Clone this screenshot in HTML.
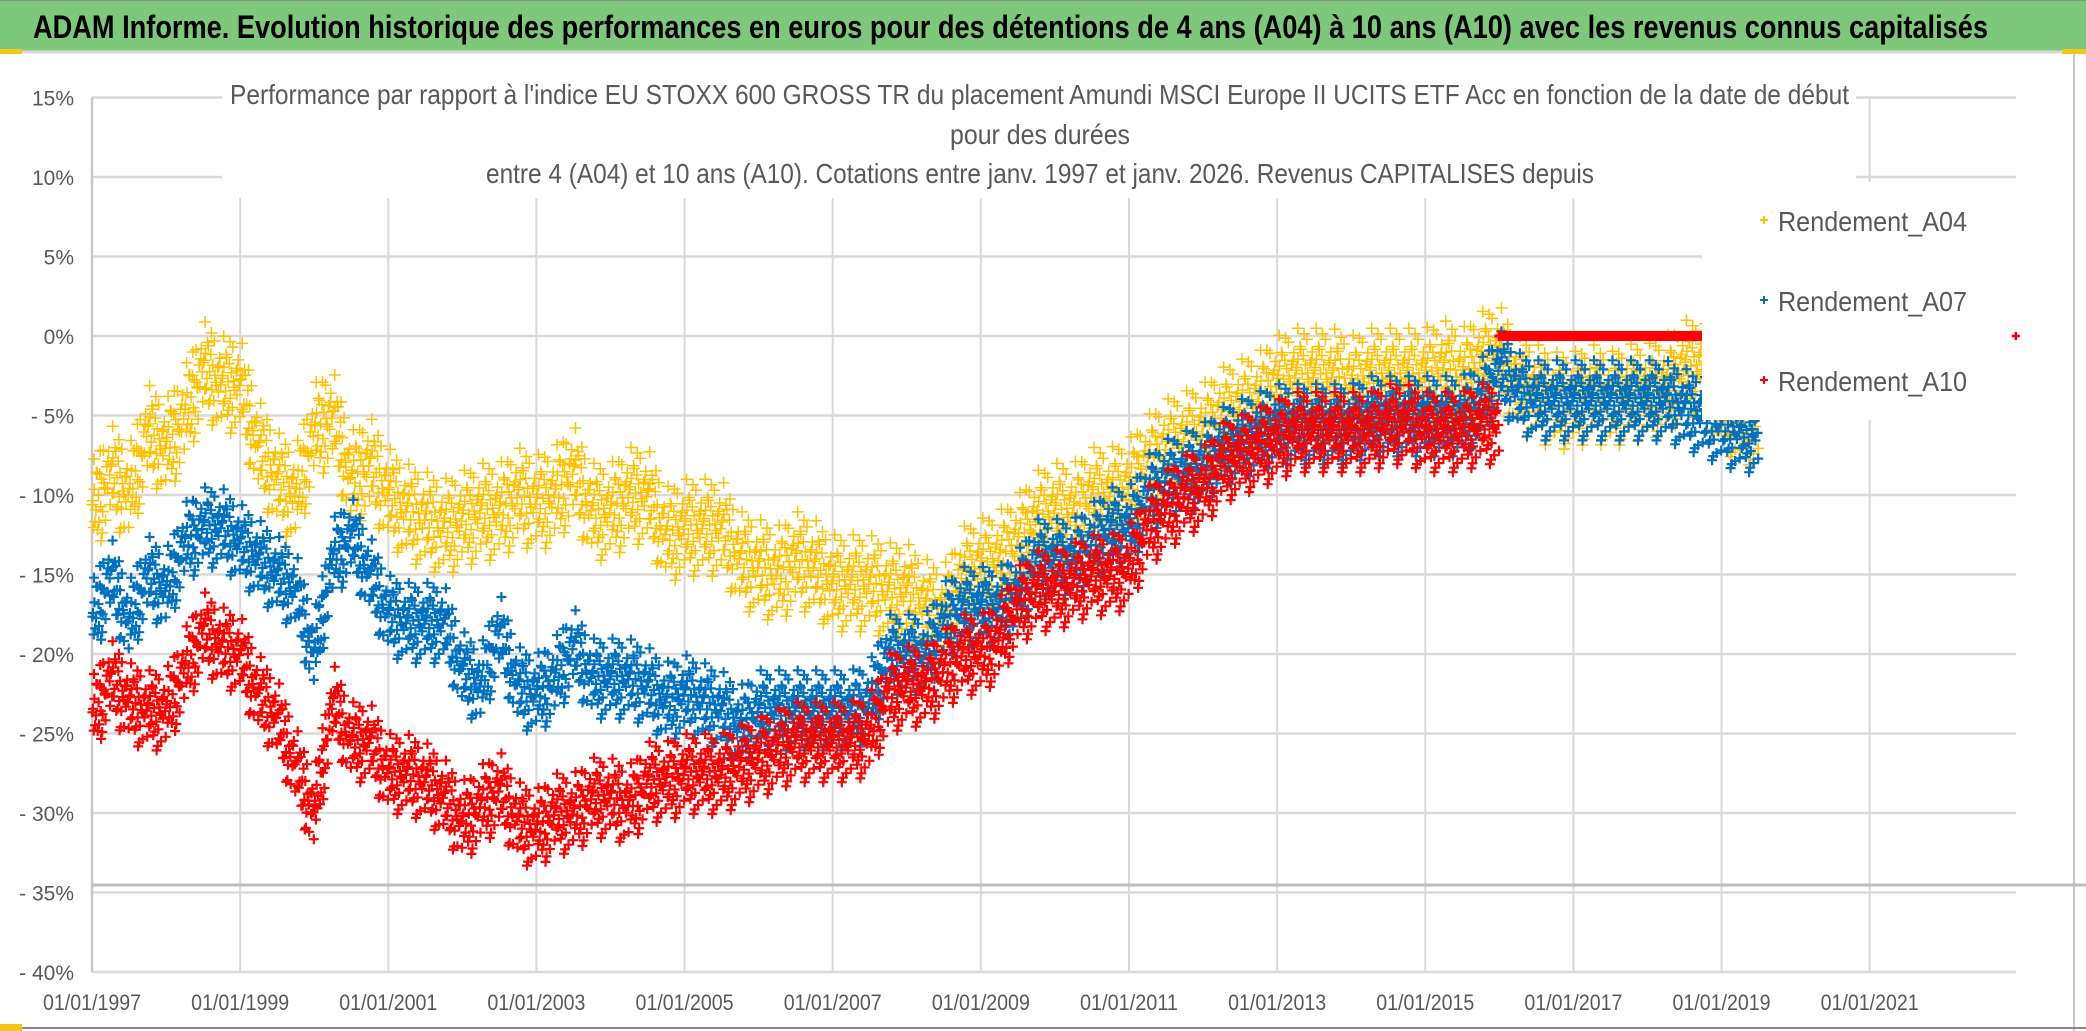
<!DOCTYPE html>
<html><head><meta charset="utf-8"><style>
html,body{margin:0;padding:0;background:#fff;}
svg{display:block;font-family:"Liberation Sans",sans-serif;}
</style></head><body>
<svg id="chart" width="2086" height="1031" viewBox="0 0 2086 1031" xmlns="http://www.w3.org/2000/svg">
<rect x="0" y="0" width="2086" height="1031" fill="#fff"/>
<rect x="0" y="0" width="2086" height="51" fill="#7ec87c"/>
<line x1="0" y1="0.5" x2="2086" y2="0.5" stroke="#8a8a8a" stroke-width="1"/>
<line x1="0" y1="52" x2="2086" y2="52" stroke="#d8d8d8" stroke-width="3"/>
<line x1="2074" y1="52" x2="2074" y2="1031" stroke="#c8c8c8" stroke-width="2"/>
<line x1="0" y1="1028" x2="2086" y2="1028" stroke="#8a8a8a" stroke-width="2"/>
<rect x="0" y="49" width="22" height="5" fill="#f5c518"/>
<rect x="2062" y="49" width="24" height="5" fill="#f5c518"/>
<rect x="0" y="1024" width="22" height="7" fill="#f5c518"/>
<text x="33" y="38" font-size="32" font-weight="bold" fill="#000" textLength="1955" lengthAdjust="spacingAndGlyphs">ADAM Informe. Evolution historique des performances en euros pour des détentions de 4 ans (A04) à 10 ans (A10) avec les revenus connus capitalisés</text>
<g id="grid"></g>
<g id="axes"></g>
<g id="marks"></g>
<rect x="222" y="78" width="1634" height="120" fill="#fff"/>
<text x="230" y="104" font-size="28" fill="#595959" textLength="1619" lengthAdjust="spacingAndGlyphs">Performance par rapport à l'indice EU STOXX 600 GROSS TR  du placement Amundi MSCI Europe II UCITS ETF Acc en fonction de la date de début</text>
<text x="950" y="144" font-size="28" fill="#595959" textLength="180" lengthAdjust="spacingAndGlyphs">pour des durées</text>
<text x="486" y="183" font-size="28" fill="#595959" textLength="1108" lengthAdjust="spacingAndGlyphs">entre 4 (A04) et 10 ans (A10). Cotations entre janv. 1997 et janv. 2026. Revenus CAPITALISES depuis</text>
<rect x="1702" y="182" width="314" height="238" fill="#fff"/>
<g id="legend"></g>
<g id="extra"></g>
</svg>
<script>
const yTicks = [15,10,5,0,-5,-10,-15,-20,-25,-30,-35,-40];
const yTickLabels = ["15%","10%","5%","0%","- 5%","- 10%","- 15%","- 20%","- 25%","- 30%","- 35%","- 40%"];
const xTicks = [1997,1999,2001,2003,2005,2007,2009,2011,2013,2015,2017,2019,2021];
const xTickLabels = ["01/01/1997","01/01/1999","01/01/2001","01/01/2003","01/01/2005","01/01/2007","01/01/2009","01/01/2011","01/01/2013","01/01/2015","01/01/2017","01/01/2019","01/01/2021"];
const startYear = 1997;
const a04 = [-11,-8.5,-10,-6, -7,-5,-2,-3, -3,-7,-9,-10, -6,-5,-9,-8, -10,-11,-11.5,-12, -11.5,-11,-11,-10, -10.5,-10,-8.5,-11, -11,-10,-10,-12.5, -12,-12,-12,-14, -14.5,-15,-14,-14.5, -15.5,-15.5,-15.5,-16, -16,-17,-17.5,-15, -14.5,-14,-13,-11.5, -11,-11,-10,-10, -9.5,-8,-7,-6.5, -6,-5,-4.5,-4, -3,-2.5,-2.5,-2.5, -3,-2.5,-2.5,-2.5, -2.5,-2,-2.5,-1.5, -1,-3,-3.5,-4, -4,-3.5,-4,-3.5, -3.5,-3,-2,-2, -4,-5];
const a07 = [-18,-15,-18,-15, -16,-13,-12,-12, -13,-14,-15,-16, -20,-14,-12.5,-15, -17.5,-18,-18,-18, -21,-22,-18.5,-22, -22.5,-21.5,-19.5,-21.5, -21.5,-21.5,-22,-23, -22.5,-23,-23.5,-24.5, -23.5,-23.5,-23.5,-23.5, -23.5,-23.5,-23,-20, -20,-20,-18,-17, -17,-17,-16,-14, -14,-14,-13,-12, -12,-10,-9,-8.5, -8,-7,-6.5,-6, -5.5,-5.5,-5.5,-5.5, -5.5,-5,-5,-5, -5,-5,-5,-4, -2,-3.5,-4,-4, -4,-4,-4,-4, -4,-4,-4.5,-5, -5.5,-6];
const a10 = [-24,-21.5,-23,-23.5, -23.5,-21,-18.5,-19.5, -20,-22.5,-24,-27, -30,-23,-25.5,-25.5, -27.5,-27.5,-28,-29, -30.5,-29.5,-28.5,-30.5, -31,-30,-30,-29, -29,-29.5,-28,-28, -27.5,-27.5,-27.5,-27, -26.5,-26,-25.5,-25.5, -25.5,-25.5,-25,-22.5, -22,-22,-21,-20, -20,-19,-17,-16, -16,-15.5,-15,-15, -14.5,-12,-11,-10, -9.5,-8,-7.5,-7, -6.5,-6,-6,-6, -6,-6,-5.5,-5.5, -6,-6,-6,-5.5];
const a10FlatStart = 2016.0;
const a10FlatEnd = 2018.74;
const a10FlatValue = 0;
const a10LatePoint = [2023.0, 0];
const jdx=[0.02,0.09,0.13,0.21,0.24,0.31,0.35,0.42,0.47,0.52,0.58,0.61,0.68,0.73,0.79,0.83,0.9,0.95,0.05,0.17,0.28,0.38,0.45,0.55,0.64,0.71,0.86,0.98,0.11,0.49];
const jdy=[0.3,-1.1,0.9,-0.4,1.6,-1.7,0.1,1.1,-0.8,0.6,-1.3,2.0,-0.2,-2.1,0.7,-0.6,1.3,-0.1,0.45,-0.95,1.45,-1.45,2.3,-2.4,0.15,-0.35,0.85,-1.8,2.6,-2.7];
const NS="http://www.w3.org/2000/svg";
function xS(t){return 92+(t-1997)*74.07;}
function yS(v){return 336-v*15.9;}
const grid=document.getElementById('grid');
const axes=document.getElementById('axes');
const marks=document.getElementById('marks');
function mk(tag,attrs,parent){const e=document.createElementNS(NS,tag);for(const k in attrs)e.setAttribute(k,attrs[k]);parent.appendChild(e);return e;}
yTicks.forEach((v,i)=>{
  const l=mk('line',{x1:92,x2:2016,y1:yS(v),y2:yS(v),stroke:'#d9d9d9','stroke-width':2.5},grid);
  
  
  const t=mk('text',{x:74,y:yS(v)+8,'font-size':21,fill:'#595959','text-anchor':'end'},axes);
  t.textContent=yTickLabels[i];
  
  
});
xTicks.forEach((yr,i)=>{
  if(i>0){
  const l=mk('line',{x1:xS(yr),x2:xS(yr),y1:yS(15),y2:yS(-40),stroke:'#d9d9d9','stroke-width':2},grid);
  
  }
  const t=mk('text',{x:xS(yr),y:1010,'font-size':22,fill:'#595959','text-anchor':'middle',textLength:98,lengthAdjust:'spacingAndGlyphs'},axes);
  t.textContent=xTickLabels[i];
  
  
});
const ax=mk('line',{x1:92,x2:92,y1:yS(15),y2:yS(-40),stroke:'#c8c8c8','stroke-width':2.5},grid);


const base=mk('line',{x1:92,x2:2086,y1:885,y2:885,stroke:'#bdbdbd','stroke-width':3},grid);


function plus(x,y,s){return 'M'+(x-s).toFixed(1)+' '+y.toFixed(1)+'h'+(2*s)+'M'+x.toFixed(1)+' '+(y-s).toFixed(1)+'v'+(2*s);}
function series(vals,color,s,w,spread,name){
  let d='';
  vals.forEach((v,i)=>{
    const t0=startYear+i/4;
    const nv=(i+1<vals.length)?vals[i+1]:v;
    for(let k=0;k<jdx.length;k++){
      const f=jdx[k];
      const c=v+(nv-v)*f;
      d+=plus(xS(t0+f/4),yS(c+jdy[k]*spread),s);
    }
  });
  const p=mk('path',{d:d,stroke:color,'stroke-width':w,fill:'none'},marks);
  
  
}
series(a04,'#ffc000',6,1.5,1.15,'series-a04');
series(a07,'#0070c0',5,2.2,0.95,'series-a07');
series(a10,'#ff0000',5,2.2,0.95,'series-a10');
let fd='';
for(let t=a10FlatStart;t<=a10FlatEnd;t+=1/40){fd+=plus(xS(t),yS(a10FlatValue),5);}
const fp=mk('path',{d:fd,stroke:'#ff0000','stroke-width':3,fill:'none'},marks);


const extra=document.getElementById('extra');
const lp=mk('path',{d:plus(xS(a10LatePoint[0])-2,yS(a10LatePoint[1]),4),stroke:'#ff0000','stroke-width':2.5,fill:'none'},extra);


const legendNames=["Rendement_A04","Rendement_A07","Rendement_A10"];
const legendColors=['#ffc000','#0070c0','#ff0000'];
const legend=document.getElementById('legend');
legendNames.forEach((n,i)=>{
  const cy=220+i*80;
  const m=mk('path',{d:plus(1764,cy,4),stroke:legendColors[i],'stroke-width':2,fill:'none'},legend);
  
  
  const t=mk('text',{x:1778,y:cy+11,'font-size':28,fill:'#595959',textLength:189,lengthAdjust:'spacingAndGlyphs'},legend);
  t.textContent=n;
  
  
});
</script>
</body></html>
